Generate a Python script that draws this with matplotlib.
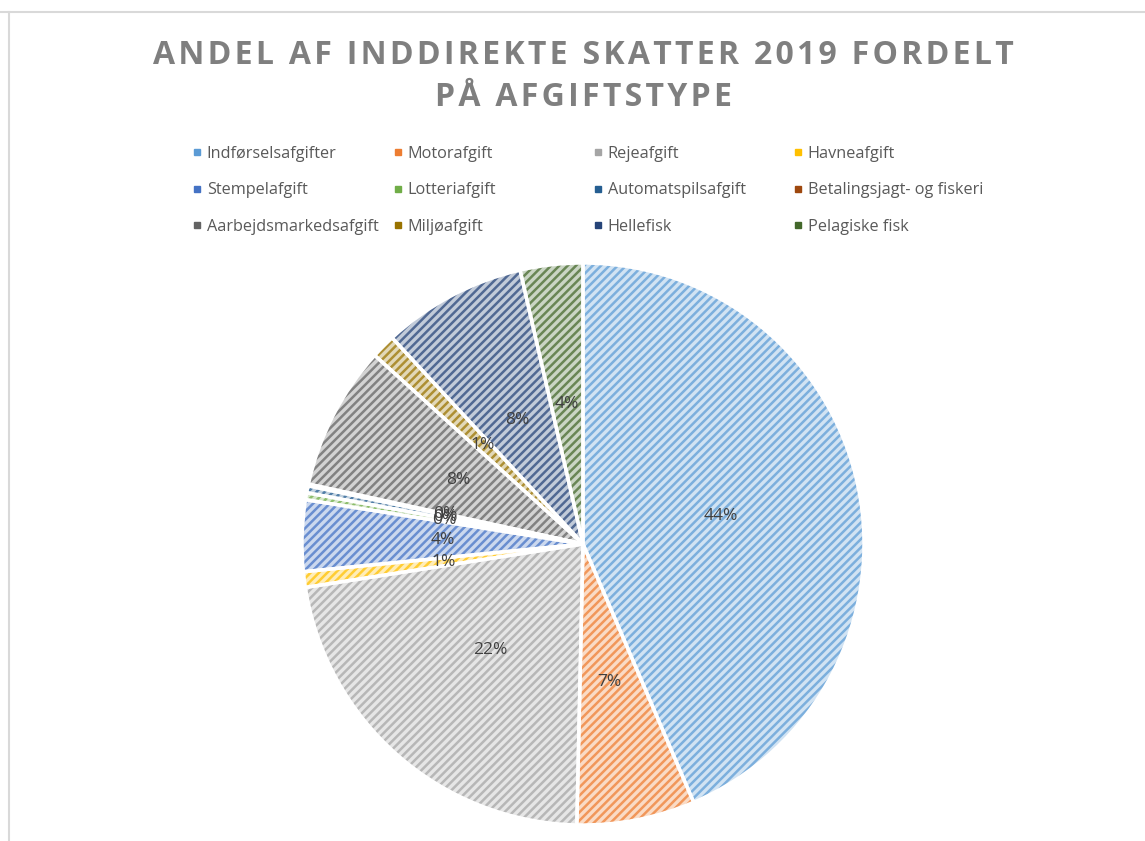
import matplotlib
matplotlib.use("Agg")
import matplotlib.pyplot as plt
from matplotlib.colors import to_rgb
from matplotlib.lines import Line2D

# Data (share of indirect taxes 2019, percent)
CATEGORIES = [
    "Indførselsafgifter", "Motorafgift", "Rejeafgift", "Havneafgift",
    "Stempelafgift", "Lotteriafgift", "Automatspilsafgift", "Betalingsjagt- og fiskeri",
    "Aarbejdsmarkedsafgift", "Miljøafgift", "Hellefisk", "Pelagiske fisk",
]
SHARES = [43.6, 6.8, 22.2, 0.9, 4.1, 0.4, 0.4, 0.1, 8.3, 1.4, 8.3, 3.6]
COLORS = [
    "#5B9BD5", "#ED7D31", "#A5A5A5", "#FFC000",
    "#4472C4", "#70AD47", "#255E91", "#9E480E",
    "#636363", "#997300", "#264478", "#43682B",
]
TITLE_LINES = ["ANDEL AF INDDIREKTE SKATTER 2019 FORDELT", "PÅ AFGIFTSTYPE"]

W, H = 1145, 841
FONT = "Open Sans"


def tint(c, amount):
    r, g, b = to_rgb(c)
    return (r + (1 - r) * amount, g + (1 - g) * amount, b + (1 - b) * amount)


def spaced(s):
    # imitate Excel's letter spacing with hair spaces
    return "\u200a".join(s)


plt.rcParams["hatch.linewidth"] = 1.8
fig = plt.figure(figsize=(W / 100, H / 100), dpi=100)

# chart border (top and left visible)
fig.add_artist(Line2D([0, 1], [1 - 11.5 / H] * 2, color="#D9D9D9", lw=1.5, transform=fig.transFigure))
fig.add_artist(Line2D([8.5 / W] * 2, [0, 1 - 11.5 / H], color="#D9D9D9", lw=1.5, transform=fig.transFigure))

# pie axes: centre (583, 544) px, radius 281 px
cx, cy, r = 583, 544, 281
ax = fig.add_axes([(cx - r) / W, (H - cy - r) / H, 2 * r / W, 2 * r / H])

wedges, texts, autotexts = ax.pie(
    SHARES,
    startangle=90,
    counterclock=False,
    autopct="%.0f%%",
    pctdistance=0.5,
    wedgeprops=dict(linewidth=0),
    textprops=dict(color="#404040", fontsize=12.5, family=FONT),
)
for w, c in zip(wedges, COLORS):
    w.set_facecolor(tint(c, 0.72))
    w.set_edgecolor(tint(c, 0.2))
    w.set_hatch("////")
    w.set_linewidth(0)

# white separators on top
outline, _ = ax.pie(SHARES, startangle=90, counterclock=False,
                    wedgeprops=dict(facecolor="none", edgecolor="white", linewidth=2.5))
for t in autotexts:
    t.set_zorder(5)
ax.set_xlim(-1.0, 1.0)
ax.set_ylim(-1.0, 1.0)
ax.set_aspect("equal")
ax.axis("off")

for line, ypx in zip(TITLE_LINES, [55, 98]):
    fig.text(583 / W, 1 - ypx / H, spaced(line), ha="center", va="center", fontsize=23,
             fontweight="bold", color="#7F7F7F", family=[FONT, "DejaVu Sans"])

# legend: four columns, three rows
col_x = [197, 398, 598, 798]
row_top = 158
for j, x in enumerate(col_x):
    idx = [j, j + 4, j + 8]
    handles = [Line2D([], [], marker="s", linestyle="none", markersize=5,
                      markerfacecolor=COLORS[i], markeredgecolor=COLORS[i]) for i in idx]
    fig.legend(handles, [CATEGORIES[i] for i in idx],
               loc="upper left", bbox_to_anchor=((x - 5) / W, 1 - (row_top - 12) / H),
               frameon=False, handlelength=0.6, handletextpad=0.3,
               labelspacing=1.26, borderpad=0, borderaxespad=0,
               prop=dict(family=FONT, size=11.7), labelcolor="#595959")

fig.savefig("out.png", dpi=100)
